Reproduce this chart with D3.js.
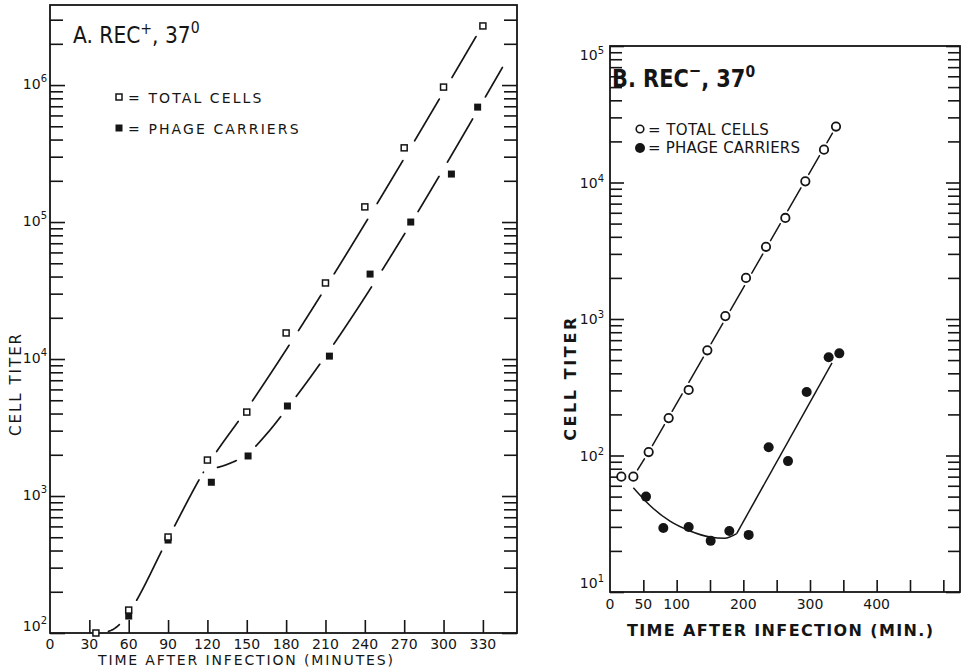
<!DOCTYPE html>
<html><head><meta charset="utf-8">
<script src="https://cdn.jsdelivr.net/npm/d3@7"></script>
<style>
body{margin:0;background:#fff;}
svg{display:block;}
text{font-family:"DejaVu Sans",sans-serif;fill:#151515;}
</style></head><body>
<svg id="c" width="965" height="671"></svg>
<script>
// ---------- Panel A data (REC+, 37°) ----------
const timeTotalA  = [35, 60, 90, 120, 150, 180, 210, 240, 270, 300, 330];
const titerTotalA = [100, 147, 502, 1830, 4100, 15500, 35900, 129000, 348000, 966000, 2700000];
const timePhageA  = [60, 90, 123, 151, 181, 213, 244, 275, 306, 326];
const titerPhageA = [133, 477, 1260, 1960, 4540, 10500, 41700, 100000, 224000, 690000];
// drawn fit curves
const fitTotalA = [[37,100],[46,104],[56,124],[60,140],[90,490],[118,1550],[150,4300],[330,2750000]];
const fitPhageA = [[118,1550],[135,1700],[151,2050],[166,2900],[181,4400],[345,1350000]];
const xTickLabelsA = [0, 30, 60, 90, 120, 150, 180, 210, 240, 270, 300, 330];
const yExpA = [2, 3, 4, 5, 6];

// ---------- Panel B data (REC-, 37°) ----------
const timeTotalB  = [17, 35, 58, 88, 118, 146, 173, 204, 234, 263, 293, 321, 339];
const titerTotalB = [70, 70, 106, 188, 302, 590, 1050, 2000, 3380, 5500, 10200, 17400, 25700];
const timePhageB  = [54, 80, 118, 151, 179, 208, 238, 267, 295, 328, 344];
const titerPhageB = [50, 29.4, 29.9, 23.7, 28, 26.2, 115, 91, 292, 525, 560];
const fitTotalB = [[17,70],[35,70],[58,106],[340,26000]];
const fitPhageCurveB = [[35,58],[60,43],[90,33],[120,28],[150,25.3],[172,24.8],[190,26.8]];
const fitPhageLineB = [[190,26.8],[333,477]];
const xTickLabelsB = [0, 50, 100, 200, 300, 400];
const xTickMarksB = [50, 100, 150, 200, 250, 300, 350, 400, 450, 500];
const yExpB = [1, 2, 3, 4, 5];

const svg = d3.select("#c");
const INK = "#151515";

function logTicks(dom){
  const out=[];
  for(let e=Math.floor(Math.log10(dom[0])); e<=Math.ceil(Math.log10(dom[1])); e++){
    for(let m=1;m<=9;m++){const v=m*Math.pow(10,e); if(v>=dom[0]*0.999 && v<=dom[1]*1.001) out.push(v);}
  }
  return out;
}
function isMajor(v){const l=Math.log10(v); return Math.abs(l-Math.round(l))<1e-6;}

// draw a path with breaks around the given marker positions
function brokenPath(parent, dStr, pts, r, sw){
  const tmp = parent.append("path").attr("d",dStr).attr("fill","none").attr("stroke","none");
  const node = tmp.node(); const L = node.getTotalLength();
  const runs=[]; let cur=null;
  for(let s=0;s<=L+0.01;s+=0.5){
    const p=node.getPointAtLength(Math.min(s,L));
    const hidden=pts.some(q=>Math.hypot(p.x-q[0],p.y-q[1])<r);
    if(hidden){ if(cur&&cur.length>1) runs.push(cur); cur=null; }
    else { if(!cur) cur=[]; cur.push([p.x,p.y]); }
  }
  if(cur&&cur.length>1) runs.push(cur);
  tmp.remove();
  parent.selectAll(null).data(runs).enter().append("path")
    .attr("d",d=>d3.line()(d)).attr("fill","none").attr("stroke",INK).attr("stroke-width",sw)
    .attr("stroke-linecap","round");
}

function frameAndAxes(g, x, y, opt){
  const [x0,x1] = x.range(), [yb,yt] = y.range();
  const ticks = logTicks(y.domain());
  const la = g.append("g").attr("transform",`translate(${x0},0)`)
    .call(d3.axisRight(y).tickValues(ticks).tickFormat("").tickSizeOuter(0));
  la.select(".domain").remove();
  la.selectAll(".tick line").attr("x2",d=>isMajor(d)?opt.tl+2:opt.tl).attr("stroke",INK).attr("stroke-width",1.6);
  const ra = g.append("g").attr("transform",`translate(${x1},0)`)
    .call(d3.axisLeft(y).tickValues(ticks).tickFormat("").tickSizeOuter(0));
  ra.select(".domain").remove();
  ra.selectAll(".tick line").attr("x2",d=>isMajor(d)?-(opt.tl+2):-opt.tl).attr("stroke",INK).attr("stroke-width",1.6);
  const ba = g.append("g").attr("transform",`translate(0,${yb})`)
    .call(d3.axisTop(x).tickValues(opt.xMarks).tickFormat("").tickSize(opt.xtl).tickSizeOuter(0));
  ba.select(".domain").remove();
  ba.selectAll(".tick line").attr("stroke",INK).attr("stroke-width",1.6);
  g.append("rect").attr("x",x0).attr("y",yt).attr("width",x1-x0).attr("height",yb-yt)
    .attr("fill","none").attr("stroke",INK).attr("stroke-width",opt.fw);
  g.selectAll("text.xl").data(opt.xLabels).join("text").attr("class","xl")
    .attr("x",d=>x(d)).attr("y",opt.xLabelY).attr("text-anchor","middle")
    .style("font-size",opt.xLabelSize+"px").style("font-weight",opt.weight).text(d=>d);
  opt.yExp.forEach(e=>{
    let yy = y(Math.pow(10,e))+opt.yLabDy;
    yy = Math.min(yy, yb-opt.yLabBottom);
    yy = Math.max(yy, yt+opt.yLabTop);
    const t = g.append("text").attr("x",x0-opt.yLabGap).attr("y",yy).attr("text-anchor","end")
      .style("font-size",opt.yLabSize+"px").style("font-weight",opt.weight);
    t.append("tspan").text("10");
    t.append("tspan").attr("dy",-opt.supRise).style("font-size",opt.supSize+"px").text(e);
  });
}

// ================= PANEL A =================
{
  const g = svg.append("g");
  const gA = g.append("g"), gL = g.append("g"), gM = g.append("g");
  const x = d3.scaleLinear().domain([0,356]).range([50,517]);
  const y = d3.scaleLog().domain([100,3.84e6]).range([633,5]);
  frameAndAxes(gA,x,y,{tl:13,xtl:13,fw:1.8,xMarks:xTickLabelsA.slice(1),xLabels:xTickLabelsA,
    xLabelY:649,xLabelSize:14,yExp:yExpA,yLabDy:4,yLabBottom:2,yLabTop:0,yLabGap:3,yLabSize:14,supSize:10,supRise:7,weight:"normal"});

  const ptsT = timeTotalA.map((t,i)=>[x(t),y(titerTotalA[i])]);
  const ptsP = timePhageA.map((t,i)=>[x(t),y(titerPhageA[i])]);
  const line = d3.line().x(d=>x(d[0])).y(d=>y(d[1])).curve(d3.curveMonotoneX);
  const allPts = ptsT.concat(ptsP);
  brokenPath(gL, line(fitTotalA), allPts, 12.5, 1.7);
  brokenPath(gL, line(fitPhageA), allPts, 12.5, 1.7);

  gM.selectAll("rect.pt").data(ptsP).join("rect").attr("class","pt")
    .attr("x",d=>d[0]-3.5).attr("y",d=>d[1]-3.5).attr("width",7).attr("height",7).attr("fill",INK);
  gM.selectAll("rect.ot").data(ptsT).join("rect").attr("class","ot")
    .attr("x",d=>d[0]-3).attr("y",d=>d[1]-3).attr("width",6).attr("height",6)
    .attr("fill","white").attr("stroke",INK).attr("stroke-width",1.5);

  // title (horizontally condensed lettering)
  const tt = gM.append("text").attr("transform","translate(73,43) scale(0.88,1)").style("font-size","23px");
  tt.append("tspan").text("A. REC");
  tt.append("tspan").attr("dy",-9).style("font-size","16px").text("+");
  tt.append("tspan").attr("dy",9).text(", 37");
  tt.append("tspan").attr("dy",-10).style("font-size","16px").text("0");
  // legend
  gM.append("rect").attr("x",116).attr("y",94).attr("width",6).attr("height",6).attr("fill","white").attr("stroke",INK).attr("stroke-width",1.5);
  gM.append("text").attr("x",128).attr("y",103).style("font-size","14px").style("letter-spacing","2.1px").text("= TOTAL  CELLS");
  gM.append("rect").attr("x",115.5).attr("y",124.5).attr("width",7).attr("height",7).attr("fill",INK);
  gM.append("text").attr("x",128).attr("y",134).style("font-size","14px").style("letter-spacing","2.1px").text("= PHAGE  CARRIERS");
  // axis titles
  gM.append("text").attr("x",98).attr("y",665).attr("textLength",295).attr("lengthAdjust","spacing")
    .style("font-size","14px").text("TIME  AFTER  INFECTION   (MINUTES)");
  gM.append("text").attr("transform","translate(21,384) rotate(-90)").attr("text-anchor","middle")
    .style("font-size","15px").style("letter-spacing","2px").text("CELL   TITER");
}

// ================= PANEL B =================
{
  const g = svg.append("g");
  const gA = g.append("g"), gL = g.append("g"), gM = g.append("g");
  const x = d3.scaleLinear().domain([0,525]).range([610,960]);
  const y = d3.scaleLog().domain([10,1e5]).range([592,46]);
  frameAndAxes(gA,x,y,{tl:12,xtl:12,fw:1.8,xMarks:xTickMarksB,xLabels:xTickLabelsB,
    xLabelY:609,xLabelSize:14,yExp:yExpB,yLabDy:5,yLabBottom:4,yLabTop:14,yLabGap:6,yLabSize:14,supSize:10,supRise:6,weight:"normal"});

  const ptsT = timeTotalB.map((t,i)=>[x(t),y(titerTotalB[i])]);
  const ptsP = timePhageB.map((t,i)=>[x(t),y(titerPhageB[i])]);
  const lin = d3.line().x(d=>x(d[0])).y(d=>y(d[1]));
  const cur = d3.line().x(d=>x(d[0])).y(d=>y(d[1])).curve(d3.curveMonotoneX);
  brokenPath(gL, lin(fitTotalB), ptsT, 7.5, 1.5);
  gL.append("path").attr("d",cur(fitPhageCurveB)).attr("fill","none").attr("stroke",INK).attr("stroke-width",1.5);
  gL.append("path").attr("d",lin(fitPhageLineB)).attr("fill","none").attr("stroke",INK).attr("stroke-width",1.5);

  gM.selectAll("circle.pt").data(ptsP).join("circle").attr("class","pt")
    .attr("cx",d=>d[0]).attr("cy",d=>d[1]).attr("r",5).attr("fill",INK);
  gM.selectAll("circle.ot").data(ptsT).join("circle").attr("class","ot")
    .attr("cx",d=>d[0]).attr("cy",d=>d[1]).attr("r",4.2).attr("fill","white").attr("stroke",INK).attr("stroke-width",1.8);

  const tt = gM.append("text").attr("transform","translate(612,87) scale(0.87,1)").style("font-size","24px").style("font-weight","bold");
  tt.append("tspan").text("B. REC");
  tt.append("tspan").attr("dy",-11).style("font-size","17px").text("\u2212");
  tt.append("tspan").attr("dy",11).text(",  37");
  tt.append("tspan").attr("dy",-10).style("font-size","16px").text("0");

  gM.append("circle").attr("cx",640).attr("cy",129).attr("r",3.8).attr("fill","white").attr("stroke",INK).attr("stroke-width",1.6);
  gM.append("text").attr("x",648).attr("y",135).style("font-size","15px").style("letter-spacing","0.4px").text("= TOTAL  CELLS");
  gM.append("circle").attr("cx",640).attr("cy",148).attr("r",5).attr("fill",INK);
  gM.append("text").attr("x",648).attr("y",153).style("font-size","15px").style("letter-spacing","0.2px").text("= PHAGE  CARRIERS");

  gM.append("text").attr("x",627).attr("y",636).attr("textLength",306).attr("lengthAdjust","spacing")
    .style("font-size","16px").style("font-weight","bold").text("TIME  AFTER  INFECTION   (MIN.)");
  gM.append("text").attr("transform","translate(576,378) rotate(-90)").attr("text-anchor","middle")
    .style("font-size","16px").style("font-weight","bold").style("letter-spacing","2.6px").text("CELL  TITER");
}
</script>
</body></html>
